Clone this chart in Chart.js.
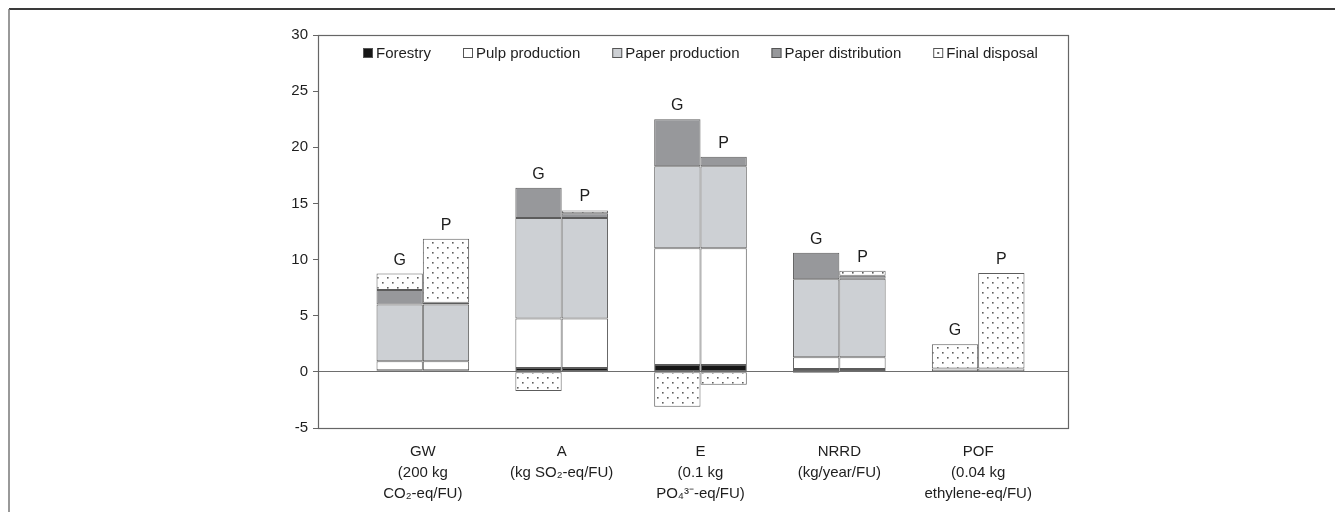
<!DOCTYPE html>
<html>
<head>
<meta charset="utf-8">
<script src="https://cdn.jsdelivr.net/npm/chart.js@4.4.0/dist/chart.umd.min.js"></script>
<style>
  html, body { margin: 0; padding: 0; background: #ffffff; }
  #wrap { width: 1335px; height: 512px; position: relative; }
</style>
</head>
<body>
<div id="wrap"><canvas id="c"></canvas></div>
<script>
// ---- data ----
const categories = [
  ['GW', '(200 kg', 'CO₂-eq/FU)'],
  ['A', '(kg SO₂-eq/FU)'],
  ['E', '(0.1 kg', 'PO₄³⁻-eq/FU)'],
  ['NRRD', '(kg/year/FU)'],
  ['POF', '(0.04 kg', 'ethylene-eq/FU)']
];
const stackNames = ['G', 'P'];
const seriesNames = ['Forestry', 'Pulp production', 'Paper production', 'Paper distribution', 'Final disposal'];

// scenario G
const forestryG     = [0.15, 0.35, 0.6, 0.25, 0.05];
const pulpG         = [0.8, 4.4, 10.4, 1.05, 0.25];
const paperProdG    = [5.05, 8.95, 7.3, 6.95, 0];
const paperDistG    = [1.3, 2.7, 4.2, 2.35, 0];
const finalDispG    = [1.45, -1.7, -3.1, -0.1, 2.15];
// scenario P
const forestryP     = [0.15, 0.35, 0.6, 0.25, 0.05];
const pulpP         = [0.8, 4.4, 10.4, 1.05, 0.25];
const paperProdP    = [5.05, 8.95, 7.3, 7.0, 0];
const paperDistP    = [0.15, 0.43, 0.85, 0.25, 0];
const finalDispP    = [5.7, 0.25, -1.15, 0.45, 8.5];

const yMin = -5, yMax = 30, yStep = 5;

// ---- styling ----
const FONT = '"Liberation Sans", Arial, Helvetica, sans-serif';
const canvas = document.getElementById('c');
function dotPattern() {
  const t = document.createElement('canvas');
  t.width = 10; t.height = 10;
  const x = t.getContext('2d');
  x.fillStyle = '#ffffff'; x.fillRect(0, 0, 10, 10);
  x.fillStyle = '#5e5e5e';
  x.fillRect(2, 2, 1.6, 1.6);
  x.fillRect(7, 7, 1.6, 1.6);
  return canvas.getContext('2d').createPattern(t, 'repeat');
}
const fills = ['#161616', '#ffffff', '#cdd0d4', '#97989b', dotPattern()];
const valuesBySeries = {
  G: [forestryG, pulpG, paperProdG, paperDistG, finalDispG],
  P: [forestryP, pulpP, paperProdP, paperDistP, finalDispP]
};

const datasets = [];
seriesNames.forEach((name, s) => {
  stackNames.forEach(k => {
    datasets.push({
      label: name,
      stack: k,
      data: valuesBySeries[k][s].map((v, i) => ({ x: i, y: v })),
      backgroundColor: fills[s],
      borderColor: '#5c5c5c',
      borderWidth: 1,
      borderSkipped: false,
      categoryPercentage: 0.667,
      barPercentage: 1.0
    });
  });
});

// ---- plugins ----
const framePlugin = {
  id: 'frame',
  beforeDraw(chart) {
    const { ctx } = chart;
    ctx.save();
    ctx.strokeStyle = '#3a3a3a'; ctx.lineWidth = 2;
    ctx.beginPath(); ctx.moveTo(9, 9); ctx.lineTo(chart.width, 9); ctx.stroke();
    ctx.strokeStyle = '#777777'; ctx.lineWidth = 1.5;
    ctx.beginPath(); ctx.moveTo(9, 9); ctx.lineTo(9, chart.height); ctx.stroke();
    ctx.restore();
  },
  beforeDatasetsDraw(chart) {
    const { ctx, chartArea: a } = chart;
    ctx.save();
    ctx.strokeStyle = '#666666'; ctx.lineWidth = 1.2;
    ctx.strokeRect(Math.round(a.left) + 0.5, Math.round(a.top) + 0.5,
                   Math.round(a.right - a.left), Math.round(a.bottom - a.top));
    ctx.restore();
  }
};

const stackLabelPlugin = {
  id: 'stackLabels',
  afterDatasetsDraw(chart) {
    const { ctx } = chart;
    const yScale = chart.scales.y;
    ctx.save();
    ctx.font = '16px ' + FONT;
    ctx.fillStyle = '#1e1e1e';
    ctx.textAlign = 'center';
    ctx.textBaseline = 'alphabetic';
    stackNames.forEach(k => {
      const idxs = chart.data.datasets.map((d, j) => d.stack === k ? j : -1).filter(j => j >= 0);
      categories.forEach((_, i) => {
        let pos = 0;
        idxs.forEach(j => { const v = chart.data.datasets[j].data[i].y; if (v > 0) pos += v; });
        const bar = chart.getDatasetMeta(idxs[0]).data[i];
        ctx.fillText(k, bar.x, yScale.getPixelForValue(pos) - 9);
      });
    });
    ctx.restore();
  }
};

const legendPlugin = {
  id: 'insideLegend',
  afterDraw(chart) {
    const { ctx, chartArea: a } = chart;
    ctx.save();
    ctx.font = '15px ' + FONT;
    const box = 10, gapBox = 3, gapItem = 32;
    const items = seriesNames.map((name, s) => ({ name, fill: fills[s] }));
    const widths = items.map(it => box + gapBox + ctx.measureText(it.name).width);
    const total = widths.reduce((p, c) => p + c, 0) + gapItem * (items.length - 1);
    let x = Math.round((a.left + a.right) / 2 - total / 2 + 7);
    const y = a.top + 18;
    items.forEach((it, i) => {
      const top = Math.round(y - box / 2);
      const isPattern = typeof it.fill !== 'string';
      ctx.fillStyle = isPattern ? '#ffffff' : it.fill;
      ctx.fillRect(x, top, box, box);
      if (isPattern) {
        ctx.fillStyle = '#5e5e5e';
        ctx.fillRect(x + box / 2 - 1, top + box / 2 - 1, 2, 2);
      }
      ctx.strokeStyle = '#555555'; ctx.lineWidth = 1;
      ctx.strokeRect(x + 0.5, top + 0.5, box - 1, box - 1);
      ctx.fillStyle = '#1e1e1e';
      ctx.textBaseline = 'middle'; ctx.textAlign = 'left';
      ctx.fillText(it.name, x + box + gapBox, y + 1);
      x += widths[i] + gapItem;
    });
    ctx.restore();
  }
};

new Chart(canvas, {
  type: 'bar',
  data: { datasets },
  plugins: [framePlugin, stackLabelPlugin, legendPlugin],
  options: {
    responsive: true,
    maintainAspectRatio: false,
    animation: false,
    layout: { padding: { left: 270, right: 267, top: 35, bottom: 0 } },
    plugins: { legend: { display: false }, tooltip: { enabled: false } },
    scales: {
      x: {
        type: 'linear',
        stacked: true,
        min: -0.755,
        max: 4.647,
        bounds: 'data',
        offset: false,
        grid: { display: false, offset: false },
        border: { display: false },
        afterBuildTicks: (s) => { s.ticks = categories.map((_, i) => ({ value: i })); },
        afterFit: (s) => { s.height = 84; },
        ticks: {
          autoSkip: false,
          maxRotation: 0,
          minRotation: 0,
          padding: 5,
          color: '#1e1e1e',
          font: { family: FONT, size: 15, lineHeight: 1.4 },
          callback: (v, i) => categories[i]
        }
      },
      y: {
        stacked: true,
        min: yMin,
        max: yMax,
        afterFit: (s) => { s.width = 48; },
        ticks: {
          stepSize: yStep,
          color: '#1e1e1e',
          padding: 5,
          font: { family: FONT, size: 15 }
        },
        grid: {
          drawOnChartArea: true,
          drawTicks: true,
          tickLength: 5,
          tickColor: '#666666',
          color: (c) => (c.tick && c.tick.value === 0) ? '#6e6e6e' : 'rgba(0,0,0,0)',
          lineWidth: 1
        },
        border: { display: true, color: '#666666', width: 1 }
      }
    }
  }
});
</script>
</body>
</html>
